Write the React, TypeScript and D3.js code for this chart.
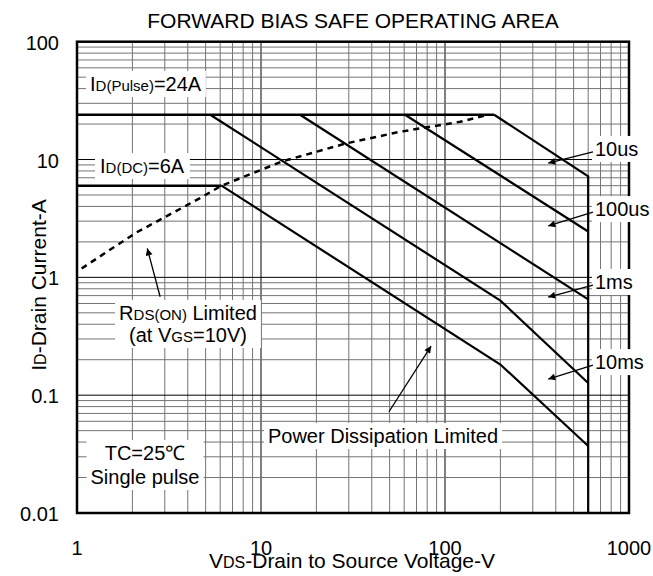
import React, { Component } from "react";
import * as d3 from "d3";

// axis ticks
const xTicks = [1, 10, 100, 1000];
const xTickLabels = ["1", "10", "100", "1000"];
const yTicks = [0.01, 0.1, 1, 10, 100];
const yTickLabels = ["0.01", "0.1", "1", "10", "100"];

// SOA boundaries, [V, A]
const pulseLimit = [[1, 24], [185, 24]];
const dcCurrentLimit = [[1, 6], [6.1, 6]];
const line10us = [[185, 24], [600, 7.2], [600, 0.01]];
const line100us = [[60.6, 24], [600, 2.45]];
const line1ms = [[16.3, 24], [600, 0.65]];
const line10ms = [[5.3, 24], [200, 0.635], [600, 0.127]];
const lineDC = [[6.1, 6], [200, 0.182], [600, 0.037]];
const rdsOnLimit = [
  [1.06, 1.19], [2.1, 2.4], [4.66, 4.7], [6.1, 6], [13.2, 9.7],
  [29, 13.7], [57, 17.2], [121, 20.9], [165, 23.6],
];

// pulse width labels and their arrows (tail, tip) in [V, A]
const pulseLabels = ["10us", "100us", "1ms", "10ms"];
const pulseArrows = [
  [[637, 11.6], [364, 9.33]],
  [[637, 3.58], [364, 2.73]],
  [[637, 0.861], [364, 0.681]],
  [[637, 0.18], [364, 0.137]],
];
const rdsArrow = [[2.83, 0.684], [2.41, 1.76]];
const powerArrow = [[49.6, 0.0723], [84, 0.261]];

const FONT = "'Liberation Sans', Arial, sans-serif";

class App extends Component {
  svgRef = React.createRef<SVGSVGElement>();

  componentDidMount() {
    this.drawChart();
  }

  drawChart() {
    const width = 653;
    const height = 576;
    const margin = { top: 41.7, right: 24, bottom: 63, left: 77 };

    const svg = d3.select(this.svgRef.current);
    svg.selectAll("*").remove();
    svg.attr("width", width).attr("height", height).style("font-family", FONT);

    const x = d3.scaleLog().domain([1, 1000]).range([margin.left, width - margin.right]);
    const y = d3.scaleLog().domain([0.01, 100]).range([height - margin.bottom, margin.top]);

    const isDecade = (v: number) => Math.abs(Math.log10(v) - Math.round(Math.log10(v))) < 1e-9;

    svg.append("defs").append("marker")
      .attr("id", "arrowhead")
      .attr("viewBox", "0 0 10 10")
      .attr("refX", 10).attr("refY", 5)
      .attr("markerUnits", "userSpaceOnUse")
      .attr("markerWidth", 8).attr("markerHeight", 7)
      .attr("orient", "auto")
      .append("path").attr("d", "M0,0 L10,5 L0,10 z").attr("fill", "#000");

    // grid
    const grid = svg.append("g");
    grid.selectAll(".vx").data(x.ticks()).enter().append("line")
      .attr("x1", d => x(d)).attr("x2", d => x(d))
      .attr("y1", y(100)).attr("y2", y(0.01))
      .attr("stroke", d => (isDecade(d) ? "#000" : "#747474"))
      .attr("stroke-width", 1);
    grid.selectAll(".hy").data(y.ticks()).enter().append("line")
      .attr("y1", d => y(d)).attr("y2", d => y(d))
      .attr("x1", x(1)).attr("x2", x(1000))
      .attr("stroke", d => (isDecade(d) ? "#000" : "#747474"))
      .attr("stroke-width", 1);

    // frame
    svg.append("rect")
      .attr("x", x(1)).attr("y", y(100))
      .attr("width", x(1000) - x(1)).attr("height", y(0.01) - y(100))
      .attr("fill", "none").attr("stroke", "#000").attr("stroke-width", 2.5);

    // curves
    const line = d3.line<number[]>().x(d => x(d[0])).y(d => y(d[1]));
    [pulseLimit, dcCurrentLimit].forEach(data => {
      svg.append("path").attr("d", line(data)).attr("fill", "none")
        .attr("stroke", "#000").attr("stroke-width", 2.5);
    });
    [line10us, line100us, line1ms, line10ms, lineDC].forEach(data => {
      svg.append("path").attr("d", line(data)).attr("fill", "none")
        .attr("stroke", "#000").attr("stroke-width", 2.2).attr("stroke-linejoin", "miter");
    });
    svg.append("path").attr("d", line(rdsOnLimit)).attr("fill", "none")
      .attr("stroke", "#000").attr("stroke-width", 2.5).attr("stroke-dasharray", "6,5");

    // labels with white boxes
    type Part = { t: string; sub?: boolean };
    const addLabel = (lines: Part[][], xPos: number, yPos: number, anchor: string, lineGap = 22, pad = 4) => {
      const g = svg.append("g");
      lines.forEach((parts, i) => {
        const t = g.append("text")
          .attr("x", xPos).attr("y", yPos + i * lineGap)
          .attr("text-anchor", anchor).attr("font-size", 20).attr("fill", "#000");
        parts.forEach(p => t.append("tspan").attr("font-size", p.sub ? 15 : 20).text(p.t));
      });
      const bb = (g.node() as SVGGElement).getBBox();
      g.insert("rect", "text")
        .attr("x", bb.x - pad).attr("y", bb.y - 2)
        .attr("width", bb.width + pad * 2).attr("height", bb.height + 4)
        .attr("fill", "#fff");
    };

    addLabel([[{ t: "I" }, { t: "D(Pulse)", sub: true }, { t: "=24A" }]], 90, 91, "start");
    addLabel([[{ t: "I" }, { t: "D(DC)", sub: true }, { t: "=6A" }]], 100, 173, "start", 22, 5);
    addLabel([
      [{ t: "R" }, { t: "DS(ON)", sub: true }, { t: " Limited" }],
      [{ t: "(at V" }, { t: "GS", sub: true }, { t: "=10V)" }],
    ], 188, 320, "middle");
    addLabel([[{ t: "Power Dissipation Limited" }]], 383, 443, "middle");
    addLabel([[{ t: "TC=25℃" }], [{ t: "Single pulse" }]], 145, 460, "middle", 24);

    pulseLabels.forEach((name, i) => {
      const [tail] = pulseArrows[i];
      addLabel([[{ t: name }]], x(tail[0]) + 2, y(tail[1]) + 4, "start", 22, 3);
    });

    // arrows
    [...pulseArrows, rdsArrow, powerArrow].forEach(([a, b]) => {
      svg.append("line")
        .attr("x1", x(a[0])).attr("y1", y(a[1]))
        .attr("x2", x(b[0])).attr("y2", y(b[1]))
        .attr("stroke", "#000").attr("stroke-width", 1.3)
        .attr("marker-end", "url(#arrowhead)");
    });

    // tick labels
    svg.append("g").selectAll("text").data(xTicks).enter().append("text")
      .attr("x", d => x(d)).attr("y", 555)
      .attr("text-anchor", "middle").attr("font-size", 20)
      .text((d, i) => xTickLabels[i]);
    svg.append("g").selectAll("text").data(yTicks).enter().append("text")
      .attr("x", 59).attr("y", d => y(d) + 8)
      .attr("text-anchor", "end").attr("font-size", 20)
      .text((d, i) => yTickLabels[i]);

    // titles
    svg.append("text")
      .attr("x", 353).attr("y", 28)
      .attr("text-anchor", "middle").attr("font-size", 21)
      .text("FORWARD BIAS SAFE OPERATING AREA");

    const xt = svg.append("text")
      .attr("x", 352).attr("y", 568)
      .attr("text-anchor", "middle").attr("font-size", 21);
    xt.append("tspan").text("V");
    xt.append("tspan").attr("font-size", 16).text("DS");
    xt.append("tspan").text("-Drain to Source Voltage-V");

    const yt = svg.append("text")
      .attr("transform", "translate(46, 285) rotate(-90)")
      .attr("text-anchor", "middle").attr("font-size", 21);
    yt.append("tspan").text("I");
    yt.append("tspan").attr("font-size", 16).text("D");
    yt.append("tspan").text("-Drain Current-A");
  }

  render() {
    return (
      <svg
        ref={this.svgRef}
        style={{ position: "absolute", left: 0, top: 0, background: "#fff" }}
      ></svg>
    );
  }
}

export default App;
